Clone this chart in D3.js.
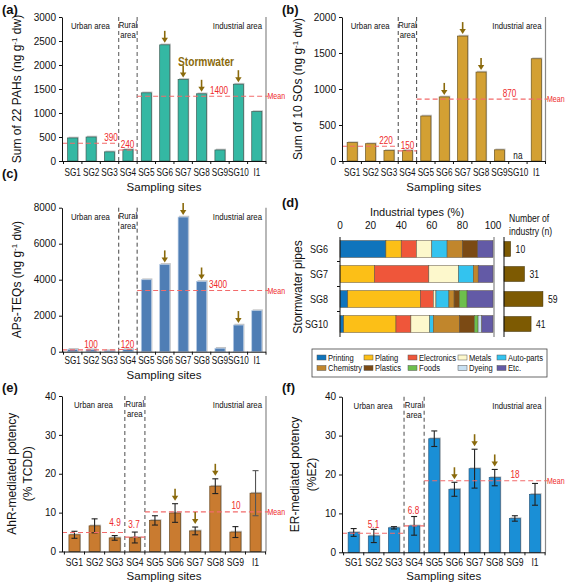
<!DOCTYPE html>
<html><head><meta charset="utf-8">
<script src="https://cdn.jsdelivr.net/npm/d3@7"></script>
<style>
body{margin:0;background:#fff}
svg{display:block}
</style>
</head><body>
<svg id="c" width="565" height="584"></svg>
<script>
// ---------------- DATA ----------------
const sitesABC = ["SG1","SG2","SG3","SG4","SG5","SG6","SG7","SG8","SG9","SG10","I1"];
const sitesEF = ["SG1","SG2","SG3","SG4","SG5","SG6","SG7","SG8","SG9","I1"];

const pahValues = [480, 500, 190, 235, 1420, 2420, 1700, 1400, 230, 1600, 1030];
const pahMeans = [370, 230, 1350];
const pahMeanLabels = ["390", "240", "1400"];
const pahTicks = [0, 500, 1000, 1500, 2000, 2500, 3000];
const pahArrows = ["SG6", "SG7", "SG8", "SG10"];

const soValues = [255, 240, 145, 145, 625, 890, 1735, 1235, 155, null, 1420];
const soMeans = [205, 140, 860];
const soMeanLabels = ["220", "150", "870"];
const soTicks = [0, 500, 1000, 1500, 2000];
const soArrows = ["SG6", "SG7", "SG8"];

const teqValues = [130, 110, 60, 120, 4000, 4850, 7480, 3900, 190, 1480, 2280];
const teqMeans = [100, 120, 3400];
const teqMeanLabels = ["100", "120", "3400"];
const teqTicks = [0, 2000, 4000, 6000, 8000];
const teqArrows = ["SG6", "SG7", "SG8", "SG10"];

const ahrValues = [4.3, 6.6, 3.5, 3.6, 8.0, 9.9, 5.3, 16.8, 5.0, 15.0];
const ahrErrors = [0.9, 1.8, 0.6, 1.4, 1.2, 2.4, 1.0, 1.9, 1.4, 5.8];
const ahrMeans = [4.9, 3.7, 10.2];
const ahrMeanLabels = ["4.9", "3.7", "10"];
const ahrTicks = [0, 10, 20, 30, 40];
const ahrArrows = ["SG6", "SG7", "SG8"];

const erValues = [5.1, 4.2, 6.3, 6.8, 29.2, 16.2, 21.5, 19.2, 8.7, 14.9];
const erErrors = [1.0, 1.7, 0.3, 2.4, 2.0, 1.8, 5.0, 2.1, 0.7, 2.8];
const erMeans = [4.9, 6.8, 18.4];
const erMeanLabels = ["5.1", "6.8", "18"];
const erTicks = [0, 10, 20, 30, 40];
const erArrows = ["SG6", "SG7", "SG8"];

const pipes = ["SG6", "SG7", "SG8", "SG10"];
const industryTypes = ["Printing","Plating","Electronics","Metals","Auto-parts","Chemistry","Plastics","Foods","Dyeing","Etc."];
// number of industries of each type per stormwater pipe
const countsSG6  = [3, 1, 1, 1, 1, 1, 1, 0, 0, 1];
const countsSG7  = [0, 7, 11, 6, 3, 1, 0, 0, 0, 3];
const countsSG8  = [3, 28, 5, 1, 5, 2, 2, 3, 0, 10];
const countsSG10 = [1, 14, 4, 5, 1, 7, 4, 1, 1, 3];
const industryCounts = [10, 31, 59, 41];
const pctTicks = [0, 20, 40, 60, 80, 100];
const typeColors = ["#0f74bc","#fcbf17","#ef563a","#fdf8cc","#33c3ef","#c1862c","#7b4a14","#6dbf4c","#c8e0f2","#635aa6"];

// ---------------- DRAW ----------------
const svg = d3.select("#c");
const FONT = '"Liberation Sans", Arial, sans-serif';
const RED = "#ee2a2a";
const MEANLINE = "#f26b6b";
const BROWN = "#8a6a0c";

function label(t, x, y, opt) {
  const e = svg.append("text").text(t)
    .attr("font-family", FONT).attr("font-size", opt.size || 11)
    .attr("fill", opt.fill || "#111").attr("text-anchor", opt.anchor || "start");
  if (opt.weight) e.attr("font-weight", opt.weight);
  if (opt.narrow) {
    e.attr("x", 0).attr("y", 0).attr("transform", `translate(${x},${y}) scale(${opt.narrow},1)`);
  } else {
    e.attr("x", x).attr("y", y);
  }
  return e;
}

function arrow(g, cx, tipY) {
  g.append("line").attr("x1", cx).attr("x2", cx).attr("y1", tipY - 12).attr("y2", tipY - 4)
    .attr("stroke", BROWN).attr("stroke-width", 1.6);
  g.append("path").attr("d", `M${cx-3.2},${tipY-5}L${cx+3.2},${tipY-5}L${cx},${tipY}Z`).attr("fill", BROWN);
}

function barPanel(p) {
  const g = svg.append("g");
  const x = d3.scaleBand().domain(p.cats).range(p.xr).paddingInner(0.45).paddingOuter(0.225);
  const y = d3.scaleLinear().domain([0, p.max]).range(p.yr);
  const bot = p.yr[0], top = p.yr[1];
  const step = x.step(), bw = x.bandwidth();
  const bound = i => p.xr[0] + i * step;
  const div1 = bound(3), div2 = bound(4);

  // right frame line
  g.append("line").attr("x1", p.right).attr("x2", p.right).attr("y1", top).attr("y2", bot)
    .attr("stroke", "#888").attr("stroke-width", 1.2);

  // dividers
  [div1, div2].forEach(dx => g.append("line").attr("x1", dx).attr("x2", dx).attr("y1", top).attr("y2", bot)
    .attr("stroke", p.divColor).attr("stroke-width", p.divWidth).attr("stroke-dasharray", "4,3"));

  // bars
  p.cats.forEach((c, i) => {
    const v = p.values[i];
    if (v == null) return;
    g.append("rect").attr("x", x(c) + 1).attr("y", y(v) - 1.3).attr("width", bw).attr("height", bot - y(v) + 1.3)
      .attr("fill", "#c4c4c4");
    g.append("rect").attr("x", x(c)).attr("y", y(v)).attr("width", bw).attr("height", bot - y(v))
      .attr("fill", p.color).attr("stroke", p.stroke).attr("stroke-width", 0.7);
  });

  // error bars
  if (p.errors) {
    p.cats.forEach((c, i) => {
      const cx = x(c) + bw / 2, v = p.values[i], e = p.errors[i];
      const col = c === "I1" && p.grayLast ? "#555" : "#222";
      g.append("line").attr("x1", cx).attr("x2", cx).attr("y1", y(v + e)).attr("y2", y(v - e)).attr("stroke", col).attr("stroke-width", 1.1);
      [v + e, v - e].forEach(t => g.append("line").attr("x1", cx - 3).attr("x2", cx + 3).attr("y1", y(t)).attr("y2", y(t)).attr("stroke", col).attr("stroke-width", 1.1));
    });
  }

  // mean lines
  const segs = [[p.axisX, div1], [div1, div2], [div2, p.right + 2]];
  segs.forEach((s, i) => {
    g.append("line").attr("x1", s[0]).attr("x2", s[1]).attr("y1", y(p.means[i])).attr("y2", y(p.means[i]))
      .attr("stroke", MEANLINE).attr("stroke-width", 1.1).attr("stroke-dasharray", "5,3");
    label(p.meanLabels[i], p.meanLabelX[i], y(p.means[i]) - p.meanDy[i], {narrow: 0.82, size: 10, fill: RED, anchor: "middle"});
  });
  label("Mean", p.right + 1.5, y(p.means[2]) + 3.2, {narrow: 0.78, size: 9, fill: RED});

  // arrows
  p.arrows.forEach(c => {
    const i = p.cats.indexOf(c);
    const t = p.errors ? p.values[i] + p.errors[i] : p.values[i];
    arrow(g, x(c) + bw / 2, y(t) - p.arrowGap);
  });

  // y axis
  const ya = g.append("g").attr("transform", `translate(${p.axisX},0)`)
    .call(d3.axisLeft(y).tickValues(p.ticks).tickFormat(d3.format("d")).tickSize(3).tickSizeOuter(0).tickPadding(3));
  ya.selectAll("text").attr("font-family", FONT).attr("font-size", 10).attr("fill", "#111");
  ya.selectAll("line,path").attr("stroke", "#111");

  // x axis
  g.append("line").attr("x1", p.axisX).attr("x2", p.right).attr("y1", bot + 0.5).attr("y2", bot + 0.5).attr("stroke", "#111");
  d3.range(p.cats.length + 1).forEach(i => g.append("line").attr("x1", bound(i)).attr("x2", bound(i))
    .attr("y1", bot).attr("y2", bot + 3).attr("stroke", "#111"));
  p.cats.forEach(c => label(c, x(c) + bw / 2, bot + p.xLabDy, {narrow: 0.82, size: p.xLabSize, anchor: "middle"}));
  label("Sampling sites", (p.axisX + p.right) / 2, bot + p.xTitleDy, {size: 11.5, anchor: "middle"});

  // region labels
  label("Urban area", (p.axisX + div1) / 2, top + 12, {narrow: 0.82, size: 9.5, anchor: "middle"});
  label("Rural", (div1 + div2) / 2, top + 11, {narrow: 0.82, size: 9.5, anchor: "middle"});
  label("area", (div1 + div2) / 2, top + 21, {narrow: 0.82, size: 9.5, anchor: "middle"});
  label("Industrial area", p.right - 4, top + 12, {narrow: 0.82, size: 9.5, anchor: "end"});

  // y title
  const cy = (top + bot) / 2;
  p.yTitle.forEach((ln, k) => {
    const t = svg.append("text").attr("transform", `translate(${p.yTitleX[k]},${cy}) rotate(-90)`)
      .attr("text-anchor", "middle").attr("font-family", FONT).attr("font-size", 12).attr("fill", "#111");
    ln.forEach(part => {
      const ts = t.append("tspan").text(part.t);
      if (part.sup) ts.attr("baseline-shift", "super").attr("font-size", 8);
    });
  });

  // panel letter
  label(p.letter, p.letterX, p.letterY, {size: 13, weight: "bold"});
  return {x, y};
}

const supUnit = [{t: "(ng g"}, {t: "-1", sup: true}, {t: " dw)"}];

// (a)
barPanel({
  cats: sitesABC, values: pahValues, max: 3000, ticks: pahTicks,
  xr: [63.5, 266], right: 266, axisX: 62, yr: [161, 17],
  color: "#34b8a3", stroke: "#3c5f58", divColor: "#555", divWidth: 1,
  means: pahMeans, meanLabels: pahMeanLabels, meanLabelX: [111, 127.5, 219], meanDy: [2, 1.5, 2],
  arrows: pahArrows, arrowGap: 2, xLabDy: 15, xLabSize: 10, xTitleDy: 30,
  yTitle: [[{t: "Sum of 22  PAHs "}].concat(supUnit)], yTitleX: [21], letter: "(a)", letterX: 2, letterY: 14
});
label("Stormwater", 206, 66, {narrow: 0.85, size: 12, weight: "bold", fill: BROWN, anchor: "middle"});

// (b)
const pb = barPanel({
  cats: sitesABC, values: soValues, max: 2000, ticks: soTicks,
  xr: [343, 545.5], right: 545.5, axisX: 342, yr: [161, 17],
  color: "#d3a033", stroke: "#6b5422", divColor: "#444", divWidth: 1,
  means: soMeans, meanLabels: soMeanLabels, meanLabelX: [386, 407.5, 509.5], meanDy: [2.5, 1.5, 2],
  arrows: soArrows, arrowGap: 2, xLabDy: 15, xLabSize: 10, xTitleDy: 30,
  yTitle: [[{t: "Sum of 10 SOs "}].concat(supUnit)], yTitleX: [302], letter: "(b)", letterX: 282, letterY: 14
});
label("na", pb.x("SG10") + pb.x.bandwidth() / 2, 159, {narrow: 0.82, size: 10, anchor: "middle"});

// (c)
barPanel({
  cats: sitesABC, values: teqValues, max: 8000, ticks: teqTicks,
  xr: [63.5, 266], right: 266, axisX: 62, yr: [351.7, 207.7],
  color: "#4f7eb5", stroke: "#b9cde6", divColor: "#444", divWidth: 1,
  means: teqMeans, meanLabels: teqMeanLabels, meanLabelX: [91, 127.5, 218], meanDy: [1.5, 1.5, 2.5],
  arrows: teqArrows, arrowGap: 2, xLabDy: 12.5, xLabSize: 10, xTitleDy: 27,
  yTitle: [[{t: "APs-TEQs "}].concat(supUnit)], yTitleX: [21], letter: "(c)", letterX: 2, letterY: 178
});

// (e)
barPanel({
  cats: sitesEF, values: ahrValues, errors: ahrErrors, grayLast: true, max: 40, ticks: ahrTicks,
  xr: [64.4, 265.6], right: 266, axisX: 62, yr: [551.5, 396],
  color: "#c97b30", stroke: "#6b4a20", divColor: "#888", divWidth: 1.5,
  means: ahrMeans, meanLabels: ahrMeanLabels, meanLabelX: [115, 134, 236], meanDy: [6, 9.5, 2.5],
  arrows: ahrArrows, arrowGap: 3, xLabDy: 14, xLabSize: 10.5, xTitleDy: 28,
  yTitle: [[{t: "AhR-mediated potency"}], [{t: "(% TCDD)"}]], yTitleX: [16, 31.5], letter: "(e)", letterX: 2, letterY: 392
});

// (f)
barPanel({
  cats: sitesEF, values: erValues, errors: erErrors, max: 40, ticks: erTicks,
  xr: [343.6, 545.1], right: 545.5, axisX: 342, yr: [552.3, 396.7],
  color: "#1a8fd6", stroke: "#2c5a80", divColor: "#888", divWidth: 1.5,
  means: erMeans, meanLabels: erMeanLabels, meanLabelX: [373.5, 413.5, 515], meanDy: [5, 12, 2.5],
  arrows: erArrows, arrowGap: 3, xLabDy: 14, xLabSize: 10.5, xTitleDy: 28,
  yTitle: [[{t: "ER-mediated potency"}], [{t: "(%E2)"}]], yTitleX: [299, 316], letter: "(f)", letterX: 282, letterY: 392
});

// (d)
(function () {
  const g = svg.append("g");
  const xd = d3.scaleLinear().domain([0, 100]).range([340, 493]);
  const yd = d3.scaleBand().domain(pipes).range([236.5, 336.5]).paddingInner(0.32).paddingOuter(0.16);
  const xn = d3.scaleLinear().domain([0, 100]).range([504, 570]);
  const counts = [countsSG6, countsSG7, countsSG8, countsSG10];

  // shadow on right
  g.append("line").attr("x1", 494).attr("x2", 494).attr("y1", 237).attr("y2", 337).attr("stroke", "#b5b5b5").attr("stroke-width", 2);

  pipes.forEach((pp, r) => {
    const tot = d3.sum(counts[r]);
    let cum = 0;
    counts[r].forEach((n, k) => {
      if (!n) return;
      const a = cum / tot * 100, b = (cum + n) / tot * 100;
      cum += n;
      g.append("rect").attr("x", xd(a)).attr("y", yd(pp)).attr("width", xd(b) - xd(a)).attr("height", yd.bandwidth())
        .attr("fill", typeColors[k]).attr("stroke", "#5a5040").attr("stroke-width", 0.5);
    });
    label(pp, 328, yd(pp) + yd.bandwidth() / 2 + 3.8, {narrow: 0.82, size: 11, anchor: "end"});
    // number of industries
    g.append("rect").attr("x", xn(0)).attr("y", yd(pp) + 1).attr("width", xn(industryCounts[r]) - xn(0)).attr("height", yd.bandwidth() - 2)
      .attr("fill", "#7d5a02").attr("stroke", "#3a2a00").attr("stroke-width", 0.5);
    label(String(industryCounts[r]), xn(industryCounts[r]) + 5, yd(pp) + yd.bandwidth() / 2 + 3.5, {narrow: 0.82, size: 10.5});
  });

  // left axis of composition
  g.append("line").attr("x1", 340).attr("x2", 340).attr("y1", 237).attr("y2", 337).attr("stroke", "#111");
  [1, 2, 3].forEach(i => {
    const yy = yd(pipes[i]) - (yd.step() - yd.bandwidth()) / 2;
    g.append("line").attr("x1", 337).attr("x2", 340).attr("y1", yy).attr("y2", yy).attr("stroke", "#111");
  });
  // number axis
  g.append("line").attr("x1", 504).attr("x2", 504).attr("y1", 237).attr("y2", 337).attr("stroke", "#111");

  // top tick labels
  pctTicks.forEach(t => label(String(t), xd(t), 229, {size: 10, anchor: "middle"}));
  label("Industrial types (%)", 417, 216, {size: 11, anchor: "middle"});
  label("Number of", 509, 222, {narrow: 0.82, size: 10.5});
  label("industry (n)", 509, 235, {narrow: 0.82, size: 10.5});
  svg.append("text").attr("transform", "translate(302,287) rotate(-90)").attr("text-anchor", "middle")
    .attr("font-family", FONT).attr("font-size", 12).attr("fill", "#111").text("Stormwater pipes");
  label("(d)", 282, 207, {size: 13, weight: "bold"});

  // legend
  g.append("rect").attr("x", 312).attr("y", 349).attr("width", 235).attr("height", 28).attr("fill", "none").attr("stroke", "#444").attr("stroke-width", 0.8);
  const colX = [317, 364, 408, 458, 497];
  industryTypes.forEach((t, k) => {
    const row = k < 5 ? 0 : 1, col = k % 5;
    const ly = row === 0 ? 357.5 : 368;
    g.append("rect").attr("x", colX[col]).attr("y", ly - 2.5).attr("width", 9).attr("height", 5)
      .attr("fill", typeColors[k]).attr("stroke", "#555").attr("stroke-width", 0.5);
    label(t, colX[col] + 11, ly + 3.3, {narrow: 0.8, size: 9.5});
  });
})();
</script>
</body></html>
